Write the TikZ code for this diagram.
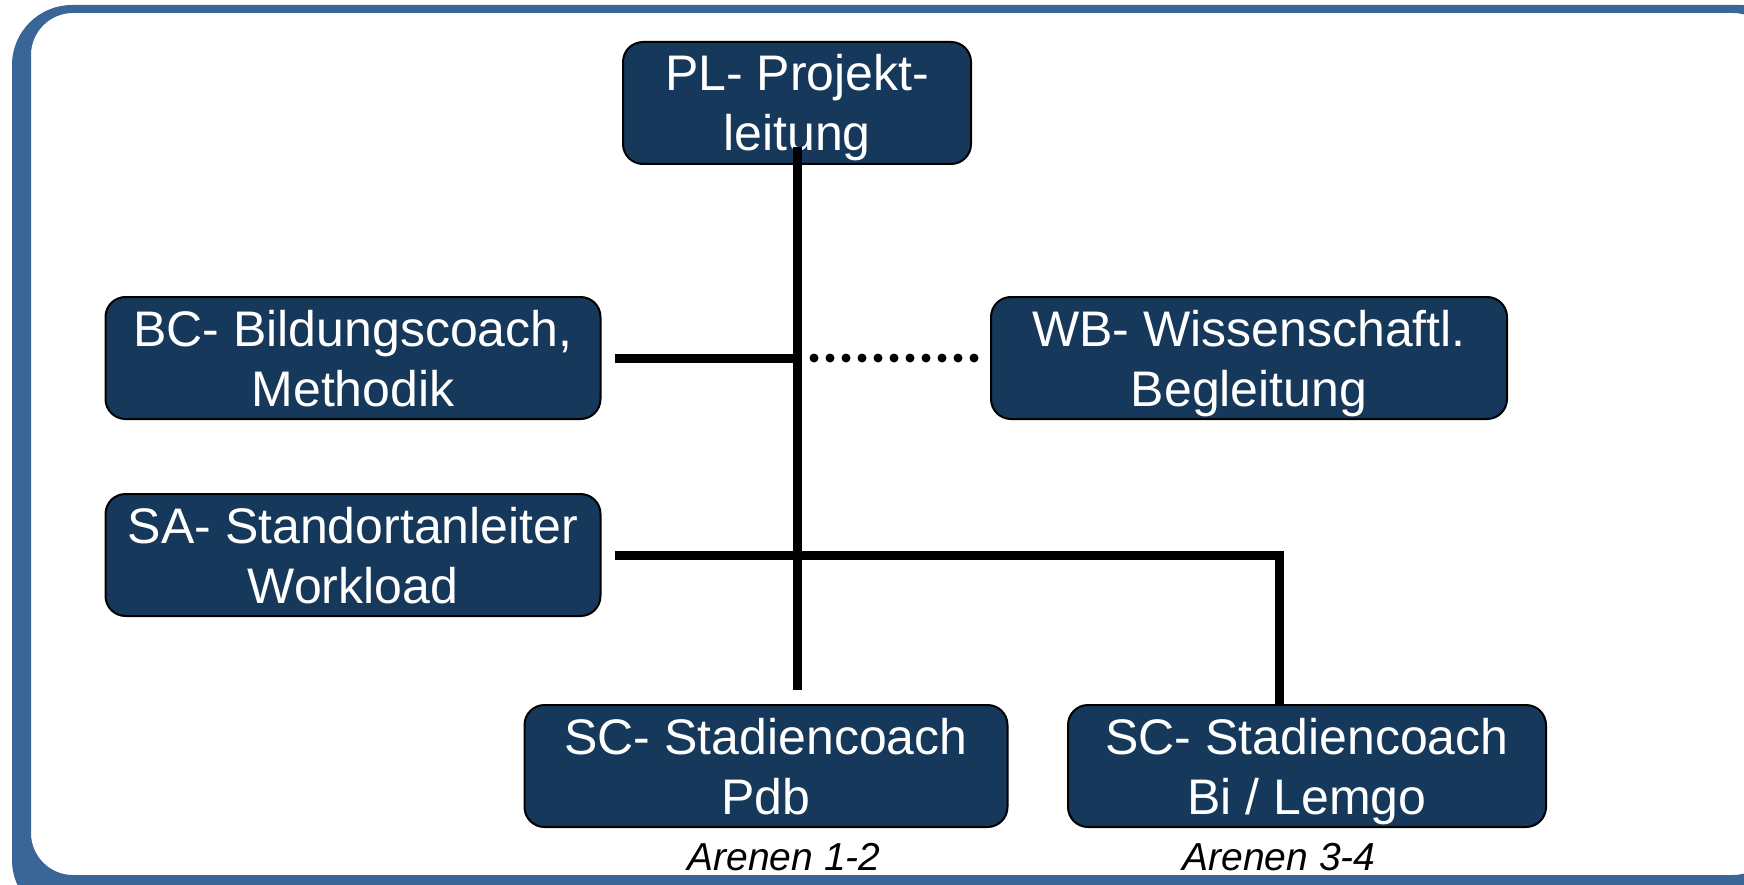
\documentclass[tikz,border=0pt]{standalone}
\usepackage{fontspec}
\setmainfont{Liberation Sans}
\usetikzlibrary{positioning}
\definecolor{boxnavy}{RGB}{22,56,90}
\definecolor{frameblue}{RGB}{58,101,151}

\begin{document}
\begin{tikzpicture}[x=1pt,y=-1pt,node distance=100pt,on grid]
	\tikzstyle{role}=[rectangle,rounded corners=20pt,draw=black,line width=2pt,fill=boxnavy,text=white,align=center,minimum height=122pt,inner sep=0pt,text height=96pt,text depth=0pt,font=\fontsize{50pt}{60pt}\selectfont]
	\tikzstyle{arena}=[anchor=base,font=\fontsize{39pt}{47pt}\selectfont\itshape]
	\tikzstyle{link}=[line width=9pt]

	\useasboundingbox (0,0) rectangle (1744,885);
	\clip (0,0) rectangle (1744,885);
	% frame
	\fill[frameblue,even odd rule,rounded corners=60pt] (12,5) rectangle (1800,920)
		[rounded corners=42pt] (31,13) rectangle (1775,875);

	\node[role,minimum width=348pt] (pl) at (797,103) {PL- Projekt-\\leitung};
	\node[role,minimum width=495pt] (bc) [below left=255pt and 444pt of pl] {BC- Bildungscoach,\\Methodik};
	\node[role,minimum width=516pt] (wb) [right=896pt of bc] {WB- Wissenschaftl.\\Begleitung};
	\node[role,minimum width=495pt] (sa) [below=197pt of bc] {SA- Standortanleiter\\Workload};
	\node[role,minimum width=483pt] (sc1) [below left=663pt and 31pt of pl] {SC- Stadiencoach\\Pdb};
	\node[role,minimum width=478pt] (sc2) [right=541pt of sc1] {SC- Stadiencoach\\Bi / Lemgo};

	\coordinate (trunktop) at ([yshift=18pt]pl.south);
	\coordinate (sc2top) at ([xshift=-28pt]sc2.north);

	\node[arena] (ar1) at ([xshift=18pt,yshift=-104pt]sc1) {Arenen 1-2};
	\node[arena] (ar2) at ([xshift=-28pt,yshift=-104pt]sc2) {Arenen 3-4};

	% connectors
	\draw[link,shorten >=14pt] (trunktop) -- (trunktop |- sc1.north);
	\draw[link,shorten <=13pt] (bc.east) -- (bc.east -| trunktop);
	\draw[link,line cap=round,dash pattern=on 0pt off 16pt,shorten <=17pt,shorten >=14pt] (bc.east -| trunktop) -- (wb.west);
	\draw[link,shorten <=13pt] (sa.east) -- (sa.east -| sc2top) -- (sc2top);
\end{tikzpicture}
\end{document}
